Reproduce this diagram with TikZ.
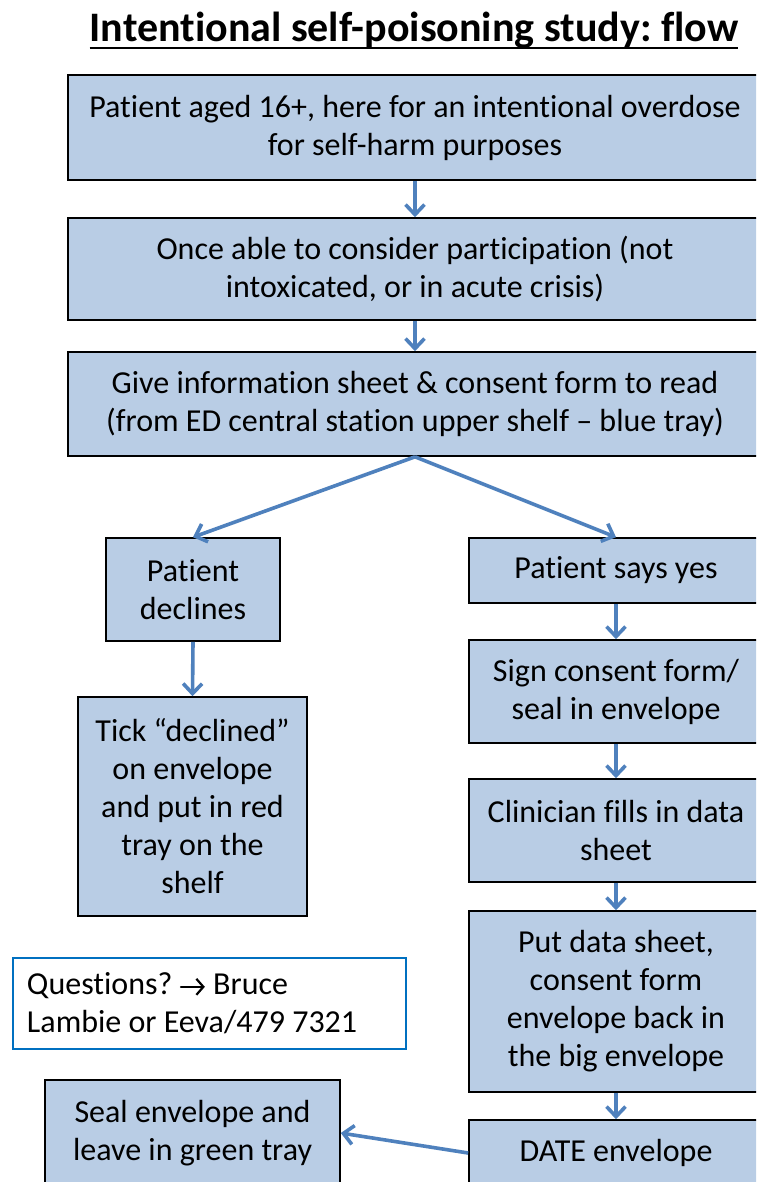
\documentclass[tikz,border=0pt]{standalone}
\usepackage{fontspec}
\setmainfont{Carlito}[Ligatures=NoCommon, RawFeature={-calt}]
\usetikzlibrary{arrows.meta}
\definecolor{boxfill}{HTML}{B9CDE5}
\definecolor{arrowc}{HTML}{4F81BD}
\definecolor{qborder}{HTML}{0070C0}
\frenchspacing
\newcommand{\qarrow}{\tikz[baseline=-8pt]\draw[line width=2.2pt, line cap=round,
  -{Straight Barb[length=7pt,width=16pt,line width=2.2pt]}] (0pt,0pt) -- (24pt,0pt);}
\begin{document}
\begin{tikzpicture}[x=1pt,y=-1pt,
  flowbox/.style={draw=black, line width=1.6pt, fill=boxfill, align=center, inner sep=0pt,
    font=\fontsize{32}{38}\selectfont},
  flowarrow/.style={draw=arrowc, line width=3.6pt,
    -{Straight Barb[length=10pt,width=19pt,line width=3.6pt]}}]
\useasboundingbox (0,0) rectangle (756,1182);
\clip (0,0) rectangle (756,1182);
\fill[white] (0,0) rectangle (756,1182);

\node[inner sep=0pt, anchor=base, font=\fontsize{42}{48}\selectfont\bfseries] (title) at (414,42)
  {Intentional self-poisoning study: flow};
\draw[line width=2pt] ([yshift=-6pt]title.base west) -- ([yshift=-6pt]title.base east);

\node[flowbox, minimum width=694pt, minimum height=105pt] (n1) at (415,127.5)
  {Patient aged 16+, here for an intentional overdose\\for self-harm purposes};
\node[flowbox, minimum width=694pt, minimum height=102pt] (n2) at (415,269)
  {Once able to consider participation (not\\intoxicated, or in acute crisis)};
\node[flowbox, minimum width=694pt, minimum height=104pt] (n3) at (415,404)
  {Give information sheet \& consent form to read\\(from ED central station upper shelf -- blue tray)};

\node[flowbox, minimum width=174pt, minimum height=103pt] (dec) at (193,589.5)
  {Patient\\declines};
\node[flowbox, minimum width=229pt, minimum height=219pt] (tick) at (192.5,806.5)
  {Tick “declined”\\on envelope\\and put in red\\tray on the\\shelf};

\node[flowbox, minimum width=294pt, minimum height=65pt] (yes) at (616,570.5)
  {Patient says yes};
\node[flowbox, minimum width=294pt, minimum height=103pt] (sign) at (616,691.5)
  {Sign consent form/\\seal in envelope};
\node[flowbox, minimum width=294pt, minimum height=103pt] (clin) at (616,830.5)
  {Clinician fills in data\\sheet};
\node[flowbox, minimum width=294pt, minimum height=181pt] (put) at (616,1001.5)
  {Put data sheet,\\consent form\\envelope back in\\the big envelope};
\node[flowbox, minimum width=294pt, minimum height=66pt] (date) at (616,1153)
  {DATE envelope};

\node[draw=qborder, line width=2.5pt, fill=white, align=flush left, inner xsep=14pt, inner ysep=0pt,
  text width=365pt, minimum height=91pt, font=\fontsize{32}{38}\selectfont] (q) at (209.5,1003.5)
  {Questions? \qarrow{} Bruce\\Lambie or Eeva/479 7321};

\node[flowbox, minimum width=295pt, minimum height=106pt] (seal) at (192.5,1133)
  {Seal envelope and\\leave in green tray};

\draw[flowarrow] (n1.south) -- (n2.north);
\draw[flowarrow] (n2.south) -- (n3.north);
\draw[flowarrow] (n3.south) -- (dec.north);
\draw[flowarrow] (n3.south) -- (yes.north);
\draw[flowarrow] (dec.south) -- (tick.north);
\draw[flowarrow] (yes.south) -- (sign.north);
\draw[flowarrow] (sign.south) -- (clin.north);
\draw[flowarrow] (clin.south) -- (put.north);
\draw[flowarrow] (put.south) -- (date.north);
\draw[flowarrow] (date.west) -- (seal.east);
\end{tikzpicture}
\end{document}
